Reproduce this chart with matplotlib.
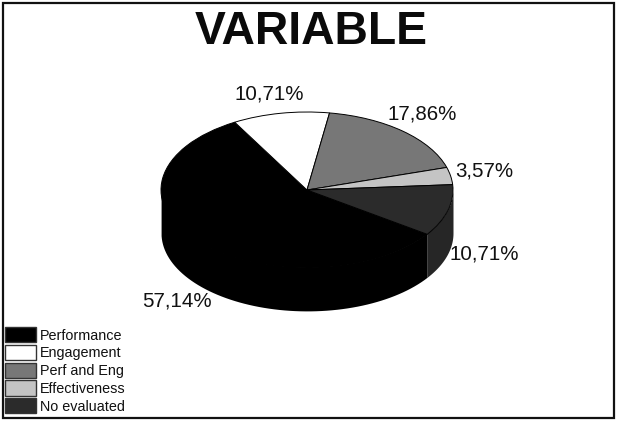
import numpy as np
import matplotlib
matplotlib.use('Agg')
import matplotlib.pyplot as plt
from matplotlib.patches import Patch, Rectangle

plt.rcParams['font.family'] = ['Liberation Sans', 'DejaVu Sans']

# данные
names = ['Performance', 'Engagement', 'Perf and Eng', 'Effectiveness', 'No evaluated']
values = [57.14, 10.71, 17.86, 3.57, 10.71]
labels = ['57,14%', '10,71%', '17,86%', '3,57%', '10,71%']
colors = ['#000000', '#ffffff', '#777777', '#c4c4c4', '#2b2b2b']
wall_colors = ['#000000', '#ffffff', '#777777', '#c4c4c4', '#262626']
label_px = [(176.5, 301), (269.5, 94), (422.5, 114), (484.5, 171), (484.5, 254)]

W, H = 617, 423
start = -34.6  # угол начала первого сектора
depth = 0.55  # высота цилиндра в радиусах

fig = plt.figure(figsize=(W / 100, H / 100), dpi=100)
fig.add_artist(Rectangle((2.5 / W, 1 - 417.5 / H), 611 / W, 414.5 / H, transform=fig.transFigure,
                         fill=False, ec='#111111', lw=1.6))

# оси подогнаны так, что эллипс имеет полуоси 146x78 пикселей
cx, cy, rx, ry = 307, 190, 146, 78
ax = fig.add_axes([(cx - rx) / W, 1 - (cy + ry + depth * ry) / H,
                   2 * rx / W, (2 + depth) * ry / H])
ax.set_xlim(-1, 1)
ax.set_ylim(-1 - depth, 1)
ax.axis('off')

# боковая стенка (верх чуть заходит под сектор, чтобы не было светлого шва)
a0 = start
for v, c in zip(values, wall_colors):
    a1 = a0 - v * 3.6
    t = np.radians(np.linspace(a0, a1, 100))
    t = t[np.sin(t) <= 0]
    if len(t):
        ax.fill_between(np.cos(t), np.sin(t) + 0.015, np.sin(t) - depth, color=c, lw=0, zorder=1)
    a0 = a1

wedges, _ = ax.pie(values, colors=colors, startangle=start, counterclock=False, radius=1,
                   wedgeprops={'edgecolor': '#000000', 'linewidth': 0.7, 'zorder': 2})
ax.set_aspect('auto')
ax.set_xlim(-1, 1)
ax.set_ylim(-1 - depth, 1)
for w in wedges:
    w.set_zorder(2)
    w.set_clip_on(False)

# текст
fig.text(311 / W, 1 - 32 / H, 'VARIABLE', fontsize=33.3, fontweight='bold',
         ha='center', va='center', color='#0a0a0a')
for s, (x, y) in zip(labels, label_px):
    fig.text(x / W, 1 - y / H, s, fontsize=14.8, ha='center', va='center', color='#111111')

handles = [Patch(facecolor=c, edgecolor='#333333', linewidth=1) for c in colors]
fig.legend(handles, names, loc='lower left', bbox_to_anchor=(4 / W, 1 - 415 / H),
           frameon=False, fontsize=10.4, labelspacing=0.155, handlelength=2.1, handleheight=1.25,
           handletextpad=0.3, borderpad=0.1, borderaxespad=0, labelcolor='#111111')

fig.savefig('out.png', dpi=100)
